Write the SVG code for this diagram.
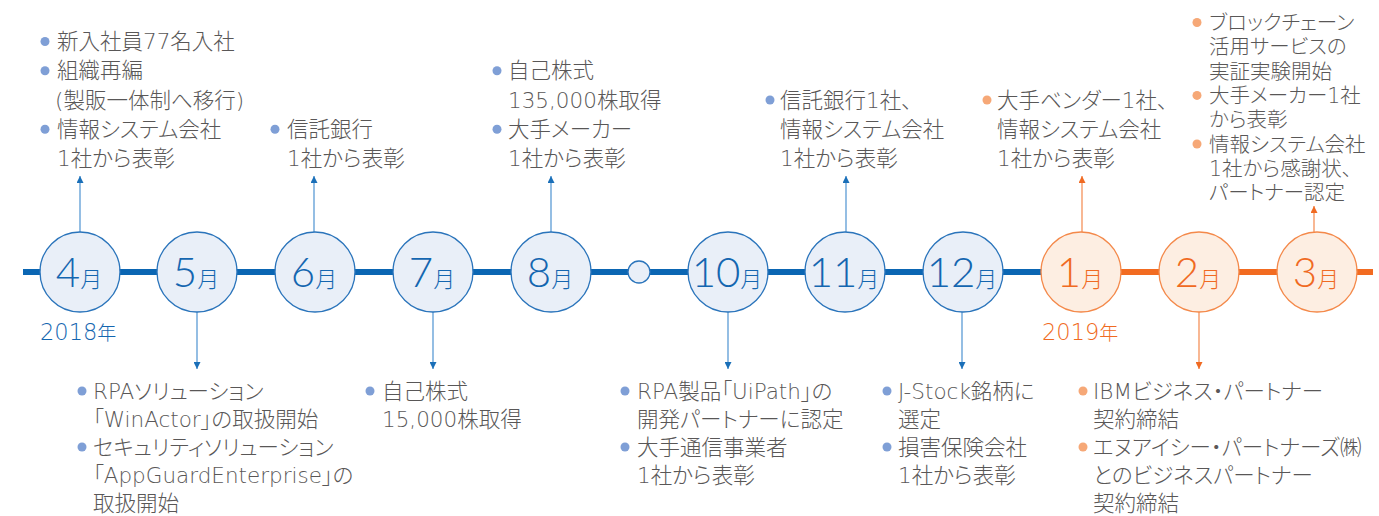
<svg xmlns="http://www.w3.org/2000/svg" width="1379" height="516" viewBox="0 0 1379 516">
<defs>
<style>
.t{font-family:"DejaVu Sans","Noto Sans CJK JP",sans-serif;font-size:21.5px;fill:#595757;font-weight:200;font-feature-settings:"palt" 1}
.t3{font-size:20.5px}
.bb{fill:#7f9fd6}
.bo{fill:#f6a877}
.cb{fill:#e9eff8;stroke:#2a74bb;stroke-width:1.3}
.co{fill:#fdeee2;stroke:#f4894a;stroke-width:1.3}
.m{font-family:"Lato","Noto Sans","Noto Sans CJK JP",sans-serif;font-weight:300;text-anchor:middle}
.mb{fill:#1466b0}
.mo{fill:#f06a22}
.d{font-size:42px}
.k{font-family:"Noto Sans CJK JP",sans-serif;font-size:22px;font-weight:300}
.y{font-family:"DejaVu Sans","Noto Sans CJK JP",sans-serif;font-weight:200;font-size:22.5px}
.ab{stroke:#5b9bd5;stroke-width:1.3;fill:none;marker-end:url(#hb)}
.ao{stroke:#f5915a;stroke-width:1.3;fill:none;marker-end:url(#ho)}
</style>
<marker id="hb" viewBox="0 0 10 10" refX="10" refY="5" markerWidth="7" markerHeight="7" markerUnits="userSpaceOnUse" orient="auto"><path d="M0,0 L10,5 L0,10 z" fill="#1a6fb8"/></marker>
<marker id="ho" viewBox="0 0 10 10" refX="10" refY="5" markerWidth="7" markerHeight="7" markerUnits="userSpaceOnUse" orient="auto"><path d="M0,0 L10,5 L0,10 z" fill="#f06a22"/></marker>
</defs>
<rect width="1379" height="516" fill="#ffffff"/>

<g id="timeline">
<line x1="23" y1="272" x2="1081" y2="272" stroke="#0b66b3" stroke-width="6"/>
<line x1="1081" y1="272" x2="1373" y2="272" stroke="#f26b21" stroke-width="6"/>
</g>

<g id="connectors">
<line class="ab" x1="80" y1="232" x2="80" y2="176"/>
<line class="ab" x1="314" y1="232" x2="314" y2="176"/>
<line class="ab" x1="551" y1="232" x2="551" y2="176"/>
<line class="ab" x1="846" y1="232" x2="846" y2="176"/>
<line class="ao" x1="1082" y1="232" x2="1082" y2="176"/>
<line class="ao" x1="1314" y1="232" x2="1314" y2="206"/>
<line class="ab" x1="197" y1="312" x2="197" y2="369"/>
<line class="ab" x1="433" y1="312" x2="433" y2="369"/>
<line class="ab" x1="728" y1="312" x2="728" y2="369"/>
<line class="ab" x1="962" y1="312" x2="962" y2="369"/>
<line class="ao" x1="1199" y1="312" x2="1199" y2="369"/>
</g>

<g id="m4"><circle class="cb" cx="80" cy="272" r="40"/><text class="m mb" x="79" y="287"><tspan class="d">4</tspan><tspan class="k">月</tspan></text></g>
<g id="m5"><circle class="cb" cx="197" cy="272" r="40"/><text class="m mb" x="196" y="287"><tspan class="d">5</tspan><tspan class="k">月</tspan></text></g>
<g id="m6"><circle class="cb" cx="315" cy="272" r="40"/><text class="m mb" x="314" y="287"><tspan class="d">6</tspan><tspan class="k">月</tspan></text></g>
<g id="m7"><circle class="cb" cx="433" cy="272" r="40"/><text class="m mb" x="432" y="287"><tspan class="d">7</tspan><tspan class="k">月</tspan></text></g>
<g id="m8"><circle class="cb" cx="551" cy="272" r="40"/><text class="m mb" x="550" y="287"><tspan class="d">8</tspan><tspan class="k">月</tspan></text></g>
<g id="m9"><circle class="cb" cx="639" cy="272" r="11"/></g>
<g id="m10"><circle class="cb" cx="728" cy="272" r="40"/><text class="m mb" x="727" y="287"><tspan class="d">10</tspan><tspan class="k">月</tspan></text></g>
<g id="m11"><circle class="cb" cx="845" cy="272" r="40"/><text class="m mb" x="844" y="287"><tspan class="d">11</tspan><tspan class="k">月</tspan></text></g>
<g id="m12"><circle class="cb" cx="963" cy="272" r="40"/><text class="m mb" x="962" y="287"><tspan class="d">12</tspan><tspan class="k">月</tspan></text></g>
<g id="m1"><circle class="co" cx="1081" cy="272" r="40"/><text class="m mo" x="1080" y="287"><tspan class="d">1</tspan><tspan class="k">月</tspan></text></g>
<g id="m2"><circle class="co" cx="1199" cy="272" r="40"/><text class="m mo" x="1198" y="287"><tspan class="d">2</tspan><tspan class="k">月</tspan></text></g>
<g id="m3"><circle class="co" cx="1317" cy="272" r="40"/><text class="m mo" x="1316" y="287"><tspan class="d">3</tspan><tspan class="k">月</tspan></text></g>

<g id="y2018"><text class="y mb" x="40" y="340">2018<tspan class="k" style="font-size:19px">年</tspan></text></g>
<g id="y2019"><text class="y mo" x="1042" y="340">2019<tspan class="k" style="font-size:19px">年</tspan></text></g>

<g id="n4">
<circle class="bb" cx="45" cy="41.5" r="4.5"/><circle class="bb" cx="45" cy="70.75" r="4.5"/><circle class="bb" cx="45" cy="129.25" r="4.5"/>
<text class="t"><tspan x="57" y="49">新入社員77名入社</tspan><tspan x="57" y="78.25">組織再編</tspan><tspan x="55" y="107.5">(製販一体制へ移行)</tspan><tspan x="57" y="136.75">情報システム会社</tspan><tspan x="57" y="166">1社から表彰</tspan></text>
</g>
<g id="n6">
<circle class="bb" cx="275" cy="129.25" r="4.5"/>
<text class="t"><tspan x="287" y="136.75">信託銀行</tspan><tspan x="287" y="166">1社から表彰</tspan></text>
</g>
<g id="n8">
<circle class="bb" cx="497" cy="70.75" r="4.5"/><circle class="bb" cx="497" cy="129.25" r="4.5"/>
<text class="t"><tspan x="508" y="78.25">自己株式</tspan><tspan x="508" y="107.5">135,000株取得</tspan><tspan x="508" y="136.75">大手メーカー</tspan><tspan x="508" y="166">1社から表彰</tspan></text>
</g>
<g id="n11">
<circle class="bb" cx="770" cy="100" r="4.5"/>
<text class="t"><tspan x="780" y="107.5">信託銀行1社、</tspan><tspan x="780" y="136.75">情報システム会社</tspan><tspan x="780" y="166">1社から表彰</tspan></text>
</g>
<g id="n1">
<circle class="bo" cx="987" cy="100" r="4.5"/>
<text class="t"><tspan x="997" y="107.5">大手ベンダー1社、</tspan><tspan x="997" y="136.75">情報システム会社</tspan><tspan x="997" y="166">1社から表彰</tspan></text>
</g>
<g id="n3">
<circle class="bo" cx="1197" cy="22.5" r="4.5"/><circle class="bo" cx="1197" cy="95.4" r="4.5"/><circle class="bo" cx="1197" cy="144" r="4.5"/>
<text class="t t3"><tspan x="1209" y="30">ブロックチェーン</tspan><tspan x="1209" y="54.3">活用サービスの</tspan><tspan x="1209" y="78.6">実証実験開始</tspan><tspan x="1209" y="102.9">大手メーカー1社</tspan><tspan x="1209" y="127.2">から表彰</tspan><tspan x="1209" y="151.5">情報システム会社</tspan><tspan x="1209" y="175.8">1社から感謝状、</tspan><tspan x="1209" y="200.1">パートナー認定</tspan></text>
</g>

<g id="n5">
<circle class="bb" cx="82" cy="391" r="4.5"/><circle class="bb" cx="82" cy="447" r="4.5"/>
<text class="t"><tspan x="93" y="399">RPAソリューション</tspan><tspan x="93" y="427">「WinActor」の取扱開始</tspan><tspan x="93" y="455">セキュリティソリューション</tspan><tspan x="93" y="483">「AppGuardEnterprise」の</tspan><tspan x="93" y="511">取扱開始</tspan></text>
</g>
<g id="n7">
<circle class="bb" cx="370" cy="391" r="4.5"/>
<text class="t"><tspan x="382" y="399">自己株式</tspan><tspan x="382" y="427">15,000株取得</tspan></text>
</g>
<g id="n10">
<circle class="bb" cx="625" cy="391" r="4.5"/><circle class="bb" cx="625" cy="447" r="4.5"/>
<text class="t"><tspan x="637" y="399">RPA製品「UiPath」の</tspan><tspan x="637" y="427">開発パートナーに認定</tspan><tspan x="637" y="455">大手通信事業者</tspan><tspan x="637" y="483">1社から表彰</tspan></text>
</g>
<g id="n12">
<circle class="bb" cx="887" cy="391" r="4.5"/><circle class="bb" cx="887" cy="447" r="4.5"/>
<text class="t"><tspan x="898" y="399">J-Stock銘柄に</tspan><tspan x="898" y="427">選定</tspan><tspan x="898" y="455">損害保険会社</tspan><tspan x="898" y="483">1社から表彰</tspan></text>
</g>
<g id="n2">
<circle class="bo" cx="1083" cy="391" r="4.5"/><circle class="bo" cx="1083" cy="447" r="4.5"/>
<text class="t"><tspan x="1093" y="399">IBMビジネス・パートナー</tspan><tspan x="1093" y="427">契約締結</tspan><tspan x="1093" y="455">エヌアイシー・パートナーズ㈱</tspan><tspan x="1093" y="483">とのビジネスパートナー</tspan><tspan x="1093" y="511">契約締結</tspan></text>
</g>
</svg>
